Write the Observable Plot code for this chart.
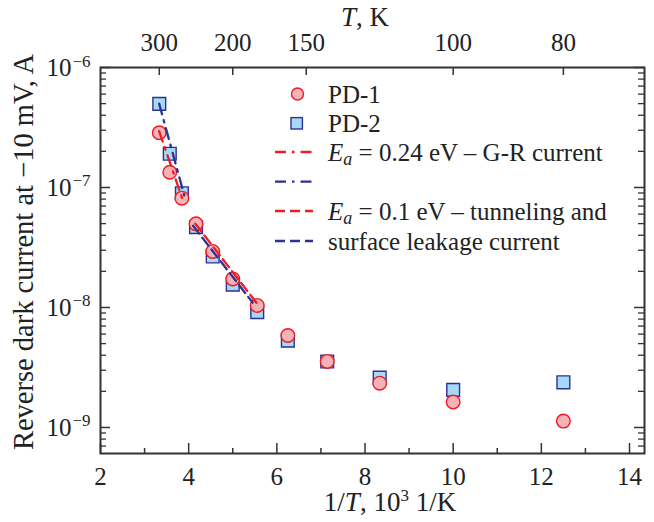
<!DOCTYPE html>
<html><head><meta charset="utf-8">
<script src="https://cdn.jsdelivr.net/npm/d3@7"></script>
<script src="https://cdn.jsdelivr.net/npm/@observablehq/plot@0.6"></script>
<style>html,body{margin:0;padding:0;background:#fff}svg{display:block}</style>
</head><body><div id="chart"></div>
<script>
// ---- data ----
const temperatures = [300, 280, 260, 240, 220, 200, 180, 160, 140, 120, 100, 80]; // K
const pd1Current = [2.86e-7, 1.34e-7, 8.15e-8, 4.98e-8, 2.93e-8, 1.73e-8, 1.04e-8, 5.84e-9, 3.55e-9, 2.34e-9, 1.63e-9, 1.13e-9];
const pd2Current = [4.98e-7, 1.91e-7, 8.96e-8, 4.67e-8, 2.66e-8, 1.55e-8, 9.14e-9, 5.30e-9, 3.55e-9, 2.60e-9, 2.06e-9, 2.38e-9];
// fitted lines (end points, 1000/T and current)
const grFit1X = [3.33, 3.87], grFit1I = [2.95e-7, 7.8e-8];   // PD-1, Ea = 0.24 eV
const grFit2X = [3.33, 3.90], grFit2I = [5.0e-7, 8.6e-8];    // PD-2
const tunFit1X = [4.15, 5.55], tunFit1I = [5.0e-8, 1.08e-8]; // PD-1, Ea = 0.1 eV
const tunFit2X = [4.10, 5.45], tunFit2I = [4.8e-8, 1.1e-8];  // PD-2
// ticks
const xMajorTicks = [2, 4, 6, 8, 10, 12, 14];
const xMinorTicks = [3, 5, 7, 9, 11, 13];
const topTickT = [300, 200, 150, 100, 80];
const yDecades = [1e-9, 1e-8, 1e-7, 1e-6];
const yExponents = ["−9", "−8", "−7", "−6"];
const yMinorTicks = [7e-10, 8e-10, 9e-10].concat(
  ...[1e-9, 1e-8, 1e-7].map(d => [2, 3, 4, 5, 6, 7, 8, 9].map(k => k * d)));
const legendLabels = ["PD-1", "PD-2"];

// ---- layout ----
const W = 654, H = 522, mL = 100, mR = 10, mT = 67, mB = 69;
const pw = W - mL - mR, ph = H - mT - mB;
const RED = "#ec1c24", NAVY = "#2e3192", PINK = "#f5b3b8", SKY = "#a5d9f5", AX = "#333";
const DASHDOT = "11,6,2.5,6", DASH = "10,5";
const FONT = "'Liberation Serif', 'Times New Roman', serif";

const pts = (xs, ys) => xs.map((x, i) => ({x, y: ys[i]}));
const pd1 = temperatures.map((T, i) => ({x: 1000 / T, y: pd1Current[i]}));
const pd2 = temperatures.map((T, i) => ({x: 1000 / T, y: pd2Current[i]}));

const plot = Plot.plot({
  width: W, height: H, marginLeft: mL, marginRight: mR, marginTop: mT, marginBottom: mB,
  style: {fontFamily: FONT, background: "#fff", color: "#222"},
  x: {domain: [2, 14.34], axis: null},
  y: {type: "log", domain: [6.07e-10, 1e-6], axis: null},
  marks: [
    Plot.dot(pd2, {x: "x", y: "y", symbol: "square", r: 7.2, fill: SKY, stroke: NAVY, strokeWidth: 1.4}),
    Plot.dot(pd1, {x: "x", y: "y", symbol: "circle", r: 6.8, fill: PINK, stroke: RED, strokeWidth: 1.4}),
    Plot.line(pts(grFit2X, grFit2I), {x: "x", y: "y", stroke: NAVY, strokeWidth: 2.3, strokeDasharray: DASHDOT}),
    Plot.line(pts(grFit1X, grFit1I), {x: "x", y: "y", stroke: RED, strokeWidth: 2.3, strokeDasharray: DASHDOT}),
    Plot.line(pts(tunFit2X, tunFit2I), {x: "x", y: "y", stroke: NAVY, strokeWidth: 2.3, strokeDasharray: DASH}),
    Plot.line(pts(tunFit1X, tunFit1I), {x: "x", y: "y", stroke: RED, strokeWidth: 2.3, strokeDasharray: DASH}),
    // inward ticks
    Plot.ruleX(xMajorTicks, {x: d => d, insetTop: ph - 10, stroke: AX, strokeWidth: 1.5}),
    Plot.ruleX(xMinorTicks, {x: d => d, insetTop: ph - 5, stroke: AX, strokeWidth: 1.5}),
    Plot.ruleX(topTickT, {x: T => 1000 / T, insetBottom: ph - 8, stroke: AX, strokeWidth: 1.5}),
    Plot.ruleY(yDecades, {y: d => d, insetRight: pw - 10, stroke: AX, strokeWidth: 1.5}),
    Plot.ruleY(yDecades, {y: d => d, insetLeft: pw - 10, stroke: AX, strokeWidth: 1.5}),
    Plot.ruleY(yMinorTicks, {y: d => d, insetRight: pw - 6, stroke: AX, strokeWidth: 1.3}),
    Plot.ruleY(yMinorTicks, {y: d => d, insetLeft: pw - 6, stroke: AX, strokeWidth: 1.3}),
    Plot.frame({stroke: AX, strokeWidth: 2}),
    // tick labels
    Plot.text(xMajorTicks, {x: d => d, text: d => String(d), frameAnchor: "bottom", lineAnchor: "bottom", dy: 31, fontSize: 25, fill: "#222"}),
    Plot.text(topTickT, {x: T => 1000 / T, text: T => String(T), frameAnchor: "top", lineAnchor: "bottom", dy: -17, fontSize: 25, fill: "#222"}),
    Plot.text(yDecades, {y: d => d, text: () => "10", frameAnchor: "left", textAnchor: "end", lineAnchor: "bottom", dx: -29, dy: 8.5, fontSize: 25, fill: "#222"}),
    Plot.text(yDecades, {y: d => d, text: (d, i) => yExponents[i], frameAnchor: "left", textAnchor: "start", lineAnchor: "bottom", dx: -28, dy: -1, fontSize: 17, fill: "#222"})
  ]
});

const svg = d3.select(plot);
// axis titles
const g = svg.append("g").attr("font-family", FONT).attr("fill", "#222");
g.append("text").attr("transform", "translate(33,252) rotate(-90)").attr("text-anchor", "middle")
  .attr("font-size", 28.5).text("Reverse dark current at −10 mV, A");
const xt = g.append("text").attr("x", 390).attr("y", 511).attr("text-anchor", "middle").attr("font-size", 27);
xt.append("tspan").text("1/");
xt.append("tspan").attr("font-style", "italic").text("T");
xt.append("tspan").text(", 10");
xt.append("tspan").attr("font-size", 17).attr("dy", -10).text("3");
xt.append("tspan").attr("dy", 10).text(" 1/K");
const tt = g.append("text").attr("x", 365).attr("y", 26).attr("text-anchor", "middle").attr("font-size", 27);
tt.append("tspan").attr("font-style", "italic").text("T");
tt.append("tspan").text(", K");

// legend
const lg = svg.append("g").attr("font-family", FONT).attr("font-size", 25).attr("fill", "#222").attr("text-anchor", "start");
const rows = [94, 123.3, 152, 181.7, 211, 241];
const tx = 328, lx1 = 275, lx2 = 313;
lg.append("circle").attr("cx", 297.5).attr("cy", rows[0]).attr("r", 6).attr("fill", PINK).attr("stroke", RED).attr("stroke-width", 1.4);
lg.append("rect").attr("x", 291).attr("y", rows[1] - 5.7).attr("width", 11.4).attr("height", 11.4).attr("fill", SKY).attr("stroke", NAVY).attr("stroke-width", 1.4);
lg.append("text").attr("x", tx).attr("y", rows[0] + 8.5).text(legendLabels[0]);
lg.append("text").attr("x", tx).attr("y", rows[1] + 8.5).text(legendLabels[1]);
const lineSample = (y, color, dash) => lg.append("line").attr("x1", lx1).attr("x2", lx2).attr("y1", y).attr("y2", y)
  .attr("stroke", color).attr("stroke-width", 2.3).attr("stroke-dasharray", dash);
lineSample(rows[2], RED, DASHDOT);
lineSample(rows[3], NAVY, DASHDOT);
lineSample(rows[4], RED, DASH);
lineSample(rows[5], NAVY, DASH);
const eaText = (y, rest) => {
  const t = lg.append("text").attr("x", tx).attr("y", y);
  t.append("tspan").attr("font-style", "italic").text("E");
  t.append("tspan").attr("font-style", "italic").attr("font-size", 18).attr("dy", 4).text("a");
  t.append("tspan").attr("dy", -4).text(rest);
};
eaText(rows[2] + 8.5, " = 0.24 eV – G-R current");
eaText(rows[4] + 8.5, " = 0.1 eV – tunneling and");
lg.append("text").attr("x", tx).attr("y", rows[5] + 8.5).text("surface leakage current");

document.getElementById("chart").appendChild(plot);
</script>
</body></html>
